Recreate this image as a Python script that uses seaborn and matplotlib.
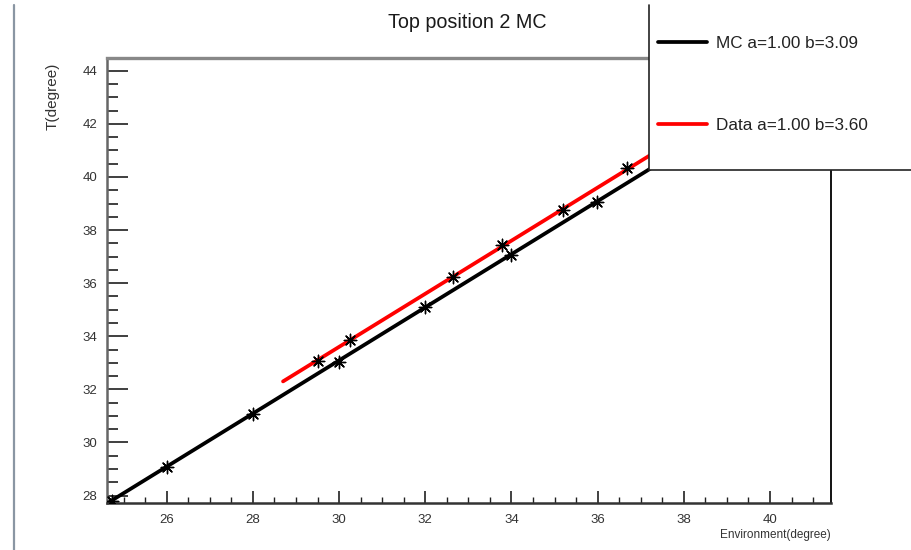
import matplotlib
matplotlib.use("Agg")
import matplotlib.pyplot as plt
from matplotlib.lines import Line2D
from matplotlib.patches import Rectangle
import seaborn as sns
import pandas as pd

# ---- data ----
mc_x = [24.72, 26.0, 28.0, 30.0, 31.99, 34.0, 35.98]
mc_y = [27.80, 29.08, 31.07, 33.04, 35.09, 37.06, 39.07]
data_x = [29.52, 30.26, 32.65, 33.77, 35.2, 36.67]
data_y = [33.08, 33.86, 36.24, 37.43, 38.75, 40.32]
# fit lines y = a*x + b (endpoints of the drawn fit ranges)
mc_fit_x = [24.6, 41.4]
mc_fit_y = [27.69, 44.49]
data_fit_x = [28.7, 41.4]
data_fit_y = [32.30, 45.00]
mc_label = "MC a=1.00 b=3.09"
data_label = "Data a=1.00 b=3.60"
title = "Top position 2 MC"
xlabel = "Environment(degree)"
ylabel = "T(degree)"

sns.set_style("white")
plt.rcParams["font.family"] = ["Liberation Sans", "DejaVu Sans"]

W, H = 912, 550
fig = plt.figure(figsize=(W / 100, H / 100), dpi=100)
ax = fig.add_axes([107 / W, 1 - 503 / H, (831 - 107) / W, (503 - 58) / H])

mc_fit = pd.DataFrame({"x": mc_fit_x, "y": mc_fit_y})
data_fit = pd.DataFrame({"x": data_fit_x, "y": data_fit_y})
sns.lineplot(data=mc_fit, x="x", y="y", ax=ax, color="black", lw=2.7, label=mc_label)
sns.lineplot(data=data_fit, x="x", y="y", ax=ax, color="#ff0000", lw=2.7, label=data_label)

pts = pd.DataFrame({"x": mc_x + data_x, "y": mc_y + data_y})
sns.scatterplot(data=pts, x="x", y="y", ax=ax, marker=(8, 2, 0), s=80,
                color="black", edgecolor="black", linewidth=1.0, zorder=5)

ax.set_xlim(24.615, 41.415)
ax.set_ylim(27.72, 44.48)
ax.set_xlabel("")
ax.set_ylabel("")

handles, labels = ax.get_legend_handles_labels()
if ax.get_legend() is not None:
    ax.get_legend().remove()

ax.set_xticks([26, 28, 30, 32, 34, 36, 38, 40])
ax.set_yticks([28, 30, 32, 34, 36, 38, 40, 42, 44])
ax.set_xticks([x * 0.5 for x in range(50, 83)], minor=True)
ax.set_yticks([y * 0.5 for y in range(56, 89)], minor=True)
ax.tick_params(axis="x", which="major", direction="in", length=8.6, width=1.2,
               color="#202020", labelsize=9.5, labelcolor="#333333", pad=8,
               top=False, bottom=True)
ax.tick_params(axis="x", which="minor", direction="in", length=4.3, width=1.0,
               color="#202020", top=False, bottom=True)
ax.tick_params(axis="y", which="major", direction="in", length=15, width=1.3,
               color="#303030", labelsize=9.5, labelcolor="#333333", pad=7,
               right=False, left=True)
ax.tick_params(axis="y", which="minor", direction="in", length=8, width=1.3,
               color="#303030", right=False, left=True)

for side, col, lw in [("top", "#888888", 2.4), ("left", "#666666", 1.8),
                      ("bottom", "#333333", 1.8), ("right", "black", 1.3)]:
    ax.spines[side].set_visible(True)
    ax.spines[side].set_color(col)
    ax.spines[side].set_linewidth(lw)

# legend box (white, covering the plot corner)
lx, ly_top, ly_bot = 649, 5, 170
fig.patches.append(Rectangle((lx / W, 1 - ly_bot / H), (W - lx + 5) / W, (ly_bot - ly_top) / H,
                             transform=fig.transFigure, facecolor="white", edgecolor="none", zorder=3))
fig.lines.append(Line2D([lx / W, lx / W], [1 - ly_top / H, 1 - ly_bot / H],
                        transform=fig.transFigure, color="#222222", lw=1.2, zorder=4))
fig.lines.append(Line2D([lx / W, 1.0], [1 - ly_bot / H, 1 - ly_bot / H],
                        transform=fig.transFigure, color="#222222", lw=1.2, zorder=4))
leg = fig.legend(handles, labels, loc="center left", bbox_to_anchor=(658 / W, 1 - 84.5 / H),
                 frameon=False, fontsize=12.3, handlelength=2.85, handletextpad=0.57,
                 labelspacing=3.95, borderpad=0, borderaxespad=0)
leg.set_zorder(6)
for t in leg.get_texts():
    t.set_color("#222222")

# titles
fig.text(467 / W, 1 - 28 / H, title, ha="center", va="baseline", fontsize=14.2, color="#1a1a1a")
fig.text(831 / W, 1 - 535 / H, xlabel, ha="right", va="center", fontsize=8.5, color="#333333")
fig.text(53 / W, 1 - 96 / H, ylabel, ha="center", va="center", rotation=90, fontsize=11,
         color="#333333")

# page border line at left
fig.lines.append(Line2D([14 / W, 14 / W], [0, 1 - 5 / H], transform=fig.transFigure,
                        color="#8a96a3", lw=1.6))

fig.savefig("out.png", dpi=100, facecolor="white")
